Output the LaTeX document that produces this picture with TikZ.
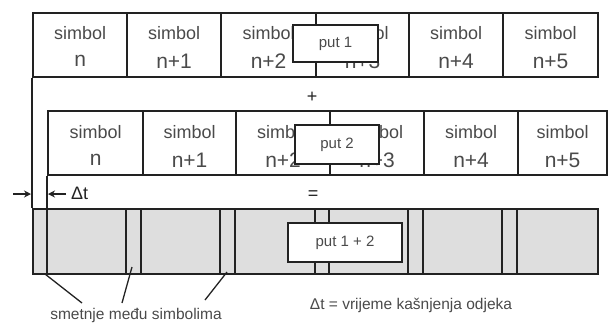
\documentclass[tikz,border=0pt]{standalone}
\usepackage{fontspec}
\setmainfont{Liberation Sans}
\usetikzlibrary{arrows.meta,calc}
\definecolor{txt}{HTML}{4A4A4A}
\definecolor{ink}{HTML}{222222}
\definecolor{cellgray}{HTML}{DEDEDE}
\begin{document}
\begin{tikzpicture}[x=1pt,y=-1pt,
  cellbox/.style={draw=ink,line width=2.2pt,minimum height=64pt,inner sep=0pt,anchor=north west},
  symtxt/.style={text=txt,inner sep=0pt,font=\fontsize{18}{20}\selectfont},
  numtxt/.style={text=txt,inner sep=0pt,font=\fontsize{21}{23}\selectfont},
  putbox/.style={draw=ink,fill=white,line width=1.5pt,inner sep=0pt,text=txt,font=\fontsize{15}{17}\selectfont},
  optxt/.style={text=ink,inner sep=0pt,font=\fontsize{18}{20}\selectfont},
  note/.style={text=txt,inner sep=0pt,font=\fontsize{15.5}{17}\selectfont},
  sep/.style={ink,line width=2.2pt},
  link/.style={ink,line width=1.3pt},
  arr/.style={ink,line width=1.4pt,-{Stealth[length=7pt,width=7pt]}}]
\useasboundingbox (0,0) rectangle (609,322);
% row 1
\foreach \a/\b/\t [count=\i] in {32/126/n,126/220/n+1,220/315/n+2,315/408/n+3,408/502/n+4,502/597/n+5}{
  \pgfmathsetmacro\w{\b-\a}
  \node[cellbox,minimum width=\w pt] (ra\i) at (\a,12) {};
  \node[symtxt] (ras\i) at ($(ra\i.north)+(0,21)$) {simbol};
  \node[numtxt] (ran\i) at ($(ra\i.north)+(0,49)$) {\t};
}
% row 2
\foreach \a/\b/\t [count=\i] in {47/142/n,142/235/n+1,235/329/n+2,329/423/n+3,423/517/n+4,517/606/n+5}{
  \pgfmathsetmacro\w{\b-\a}
  \node[cellbox,minimum width=\w pt] (rb\i) at (\a,110) {};
  \node[symtxt] (rbs\i) at ($(rb\i.north)+(0,22)$) {simbol};
  \node[numtxt] (rbn\i) at ($(rb\i.north)+(0,50)$) {\t};
}
% row 3
\node[draw=ink,fill=cellgray,line width=2.2pt,minimum width=565pt,minimum height=65pt,inner sep=0pt,anchor=north west] (rc) at (32,208) {};
\foreach \x in {47,126,141,220,235,315,329,408,423,502,517}{
  \draw[sep] (\x,208) -- (\x,273);
}
% vertical links
\draw[link] (ra1.south west) -- (rc.north west);
\coordinate (rcb) at (rc.north west -| rb1.south west);
\draw[link] (rb1.south west) -- (rcb);
% delta t arrows
\coordinate (dtL) at (31,194);
\coordinate (dtLs) at (13,194);
\coordinate (dtR) at (48,194);
\coordinate (dtRs) at (66,194);
\draw[arr] (dtLs) -- (dtL);
\draw[arr] (dtRs) -- (dtR);
\node[optxt,anchor=west] (dt) at (71,193) {Δt};
% operators
\node[optxt] (plus) at (312,97) {+};
\node[optxt] (eq) at (313,195) {=};
% put boxes
\node[putbox,minimum width=85pt,minimum height=37pt] (p1) at (335.5,43.5) {put 1};
\node[putbox,minimum width=84pt,minimum height=39pt] (p2) at (337,144.5) {put 2};
\node[putbox,minimum width=114pt,minimum height=39pt] (p12) at (345,242.5) {put 1 + 2};
% bottom notes
\node[note] (sm) at (136,315) {smetnje među simbolima};
\node[note] (dl) at (411,305) {Δt = vrijeme kašnjenja odjeka};
\coordinate (g1) at (45,274);
\coordinate (g2) at (132,267);
\coordinate (g3) at (227,272);
\coordinate (h1) at (82,303);
\coordinate (h2) at (122,303);
\coordinate (h3) at (205,300);
\draw[link] (g1) -- (h1);
\draw[link] (g2) -- (h2);
\draw[link] (g3) -- (h3);
\end{tikzpicture}
\end{document}
